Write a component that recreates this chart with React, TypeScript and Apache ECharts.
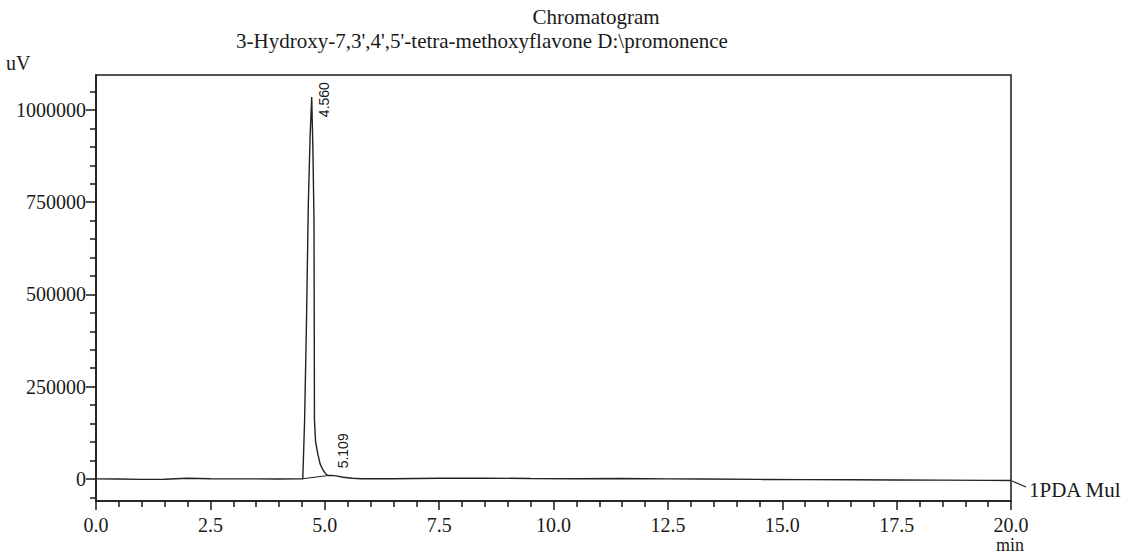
import React, { useEffect, useRef } from 'react';
import * as echarts from 'echarts';

const titleText = 'Chromatogram';
const subtitleText = "3-Hydroxy-7,3',4',5'-tetra-methoxyflavone D:\\promonence";
const yUnit = 'uV';
const xUnit = 'min';
const channelName = '1PDA Mul';

const xMinorTicks = [
  0.5, 1, 1.5, 2, 3, 3.5, 4, 4.5, 5.5, 6, 6.5, 7, 8, 8.5, 9, 9.5, 10.5, 11,
  11.5, 12, 13, 13.5, 14, 14.5, 15.5, 16, 16.5, 17, 18, 18.5, 19, 19.5,
];
const yMajorTicks = [0, 250000, 500000, 750000, 1000000];
const yMinorTicks = [
  -50000, 50000, 100000, 150000, 200000, 300000, 350000, 400000, 450000,
  550000, 600000, 650000, 700000, 800000, 850000, 900000, 950000, 1050000,
];

// chromatogram trace (min, uV)
const times = [
  0, 0.5, 1.0, 1.5, 2.0, 2.5, 3.0, 3.5, 4.0, 4.45, 4.52, 4.56, 4.6, 4.64, 4.68,
  4.715, 4.74, 4.765, 4.77, 4.775, 4.8, 4.852, 4.9, 4.962, 5.02, 5.07, 5.15,
  5.25, 5.4, 5.6, 5.8, 6.5, 7.5, 8.5, 9.5, 10.5, 11.5, 12.5, 13.3, 14.5, 15.5,
  16.5, 17.5, 18.5, 19.5, 20.0,
];
const values = [
  0, -500, -1500, -1000, 1500, 500, 0, 0, -500, 0, 500, 160000, 420000, 740000,
  930000, 1035000, 900000, 700000, 450000, 160000, 100000, 65000, 40000, 24000,
  14000, 9000, 9500, 8000, 4500, 1500, 500, 500, 1500, 2000, 1000, 500, 1000,
  0, -500, -1500, -2000, -2500, -3000, -3500, -4000, -4500,
];

// integration baseline under the peaks
const baselineTimes = [4.52, 5.07];
const baselineValues = [500, 9000];

// peak annotations
const peakLabels = ['4.560', '5.109'];
const peakTimes = [4.715, 5.15];
const peakValues = [1035000, 9500];

const serif = 'Liberation Serif';
const ink = '#1a1a1a';

export default function App() {
  const ref = useRef<HTMLDivElement>(null);

  useEffect(() => {
    document.body.style.margin = '0';
    if (!ref.current) return;
    const chart = echarts.init(ref.current, undefined, { renderer: 'svg' });
    const labelOffsets = [[-20, 12], [7, 11]];
    const txt = (text: string, x: number, y: number, size: number, align = 'center') => ({
      type: 'text',
      x,
      y,
      style: {
        text,
        fontFamily: serif,
        fontSize: size,
        fill: ink,
        textAlign: align,
        textVerticalAlign: 'middle',
      },
    });
    const tickStyle = { color: ink, width: 1.5 };
    chart.setOption({
      animation: false,
      backgroundColor: '#ffffff',
      grid: {
        left: 96,
        right: 115,
        top: 75,
        bottom: 55,
        show: true,
        borderColor: ink,
        borderWidth: 1.5,
        backgroundColor: 'transparent',
      },
      graphic: [
        txt(titleText, 596, 17, 21),
        txt(subtitleText, 482, 41, 21),
        txt(yUnit, 6, 63, 20, 'left'),
        txt(xUnit, 1010, 545, 18),
        {
          type: 'line',
          shape: { x1: 1012, y1: 481, x2: 1026, y2: 487 },
          style: { stroke: ink, lineWidth: 1.2 },
        },
      ],
      xAxis: [
        {
          type: 'value',
          min: 0,
          max: 20,
          interval: 2.5,
          axisLine: { onZero: false, lineStyle: { color: ink, width: 1.5 } },
          axisTick: { show: true, length: 9, lineStyle: tickStyle },
          splitLine: { show: false },
          axisLabel: {
            formatter: (v: number) => v.toFixed(1),
            fontFamily: serif,
            fontSize: 20,
            color: ink,
            margin: 14,
          },
        },
        {
          type: 'value',
          min: 0,
          max: 20,
          position: 'bottom',
          axisLine: { show: false, onZero: false },
          axisTick: { show: true, length: 6, customValues: xMinorTicks, lineStyle: tickStyle },
          axisLabel: { show: false },
          splitLine: { show: false },
        },
      ],
      yAxis: [
        {
          type: 'value',
          min: -60000,
          max: 1095000,
          axisLine: { show: true, onZero: false, lineStyle: { color: ink, width: 1.5 } },
          axisTick: { show: true, length: 10, customValues: yMajorTicks, lineStyle: tickStyle },
          axisLabel: {
            customValues: yMajorTicks,
            formatter: (v: number) => String(v),
            fontFamily: serif,
            fontSize: 20,
            color: ink,
            margin: 10,
          },
          splitLine: { show: false },
        },
        {
          type: 'value',
          min: -60000,
          max: 1095000,
          position: 'left',
          axisLine: { show: false, onZero: false },
          axisTick: { show: true, length: 6, customValues: yMinorTicks, lineStyle: tickStyle },
          axisLabel: { show: false },
          splitLine: { show: false },
        },
      ],
      series: [
        {
          type: 'line',
          data: times.map((t, i) => [t, values[i]]),
          symbol: 'none',
          lineStyle: { color: '#222', width: 1.4 },
          endLabel: {
            show: true,
            formatter: channelName,
            distance: 18,
            offset: [0, 9],
            fontFamily: serif,
            fontSize: 21,
            color: ink,
          },
          markPoint: {
            symbol: 'circle',
            symbolSize: 0,
            silent: true,
            label: {
              show: true,
              rotate: 90,
              position: 'inside',
              align: 'left',
              verticalAlign: 'middle',
              fontFamily: 'Liberation Sans',
              fontSize: 14,
              color: ink,
            },
            data: peakLabels.map((t, i) => ({
              coord: [peakTimes[i], peakValues[i]],
              label: { formatter: t, offset: labelOffsets[i] },
            })),
          },
        },
        {
          type: 'line',
          data: baselineTimes.map((t, i) => [t, baselineValues[i]]),
          symbol: 'none',
          lineStyle: { color: '#222', width: 1.1 },
        },
      ],
    });
    return () => chart.dispose();
  }, []);

  return (
    <div
      ref={ref}
      style={{ position: 'fixed', left: 0, top: 0, width: 1126, height: 556, background: '#fff' }}
    />
  );
}
